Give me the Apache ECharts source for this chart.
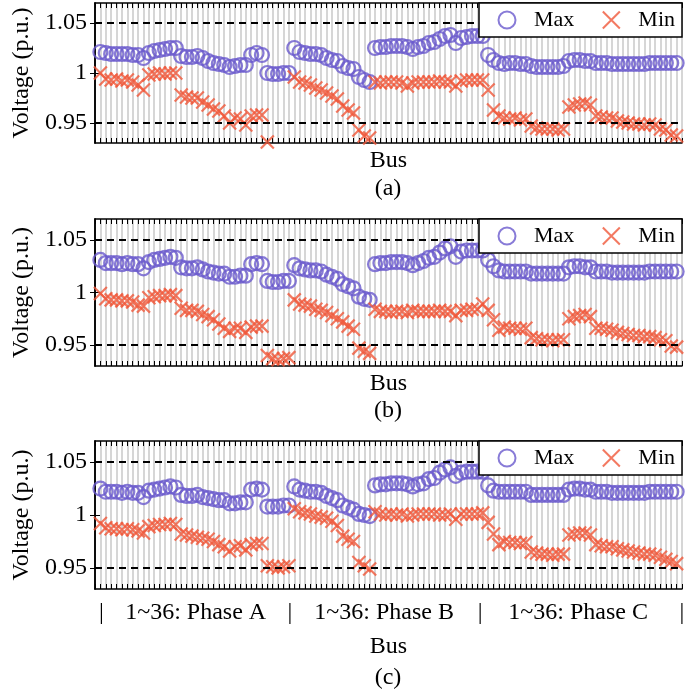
<!DOCTYPE html>
<html>
<head>
<meta charset="utf-8">
<script src="https://cdn.jsdelivr.net/npm/echarts@6/dist/echarts.min.js"></script>
<style>
  html, body { margin: 0; padding: 0; background: #fff; }
  #chart { width: 700px; height: 691px; }
</style>
</head>
<body>
<div id="chart"></div>
<script>
// bus numbers: 1-36 phase A, 37-72 phase B, 73-108 phase C
const buses = Array.from({ length: 108 }, (_, i) => i + 1);

// (a)
const maxA = [
  1.021, 1.020, 1.019, 1.019, 1.019, 1.019, 1.018, 1.018, 1.015, 1.020, 1.022, 1.023, 1.024, 1.025, 1.025,
  1.017, 1.016, 1.016, 1.017, 1.015, 1.012, 1.010, 1.009, 1.008, 1.006, 1.007, 1.008, 1.008,
  1.018, 1.020, 1.018, 1.000, 0.999, 0.999, 1.000, 1.000,
  1.025, 1.021, 1.020, 1.019, 1.019, 1.018, 1.015, 1.013, 1.012, 1.007, 1.005, 1.004, 0.996, 0.993, 0.991,
  1.025, 1.026, 1.026, 1.027, 1.027, 1.027, 1.026, 1.024, 1.026, 1.027, 1.030, 1.031, 1.034, 1.037, 1.038,
  1.030, 1.035, 1.036, 1.037, 1.037, 1.037,
  1.018, 1.013, 1.010, 1.009, 1.010, 1.010, 1.009, 1.009, 1.007, 1.006, 1.006, 1.006, 1.006, 1.006, 1.007,
  1.012, 1.013, 1.013, 1.012, 1.012, 1.010, 1.010, 1.010, 1.009, 1.009, 1.009, 1.009, 1.009, 1.009, 1.009,
  1.010, 1.010, 1.010, 1.010, 1.010, 1.010
];
const minA = [
  1.000, 0.994, 0.993, 0.994, 0.992, 0.993, 0.991, 0.988, 0.983, 0.998, 0.999, 1.000, 0.999, 1.000, 1.000,
  0.978, 0.976, 0.975, 0.975, 0.971, 0.968, 0.964, 0.962, 0.957, 0.950, 0.955, 0.954, 0.948,
  0.957, 0.958, 0.958, 0.931, 0.925, 0.925, 0.925, 0.925,
  0.996, 0.991, 0.990, 0.988, 0.985, 0.983, 0.980, 0.977, 0.974, 0.967, 0.963, 0.960, 0.943, 0.937, 0.935,
  0.991, 0.990, 0.991, 0.991, 0.991, 0.990, 0.987, 0.990, 0.991, 0.991, 0.991, 0.991, 0.992, 0.991, 0.991,
  0.987, 0.992, 0.993, 0.993, 0.993, 0.993,
  0.983, 0.963, 0.957, 0.955, 0.954, 0.955, 0.953, 0.954, 0.947, 0.945, 0.944, 0.944, 0.944, 0.943, 0.944,
  0.966, 0.968, 0.969, 0.970, 0.968, 0.957, 0.956, 0.955, 0.955, 0.952, 0.951, 0.950, 0.949, 0.949, 0.948,
  0.949, 0.948, 0.944, 0.943, 0.938, 0.937
];

// (b)
const maxB = [
  1.031, 1.028, 1.028, 1.028, 1.027, 1.028, 1.027, 1.027, 1.023, 1.029, 1.031, 1.032, 1.033, 1.034, 1.033,
  1.024, 1.023, 1.023, 1.024, 1.022, 1.020, 1.019, 1.018, 1.018, 1.015, 1.015, 1.016, 1.016,
  1.027, 1.028, 1.027, 1.011, 1.010, 1.010, 1.011, 1.011,
  1.026, 1.023, 1.022, 1.021, 1.021, 1.020, 1.017, 1.015, 1.013, 1.008, 1.006, 1.004, 0.996, 0.994, 0.993,
  1.027, 1.028, 1.028, 1.029, 1.029, 1.029, 1.028, 1.026, 1.028, 1.030, 1.033, 1.034, 1.038, 1.042, 1.044,
  1.034, 1.039, 1.040, 1.040, 1.040, 1.040,
  1.031, 1.025, 1.021, 1.020, 1.020, 1.020, 1.020, 1.020, 1.018, 1.018, 1.018, 1.018, 1.018, 1.018, 1.018,
  1.024, 1.025, 1.025, 1.024, 1.024, 1.020, 1.020, 1.020, 1.019, 1.019, 1.019, 1.019, 1.019, 1.019, 1.019,
  1.020, 1.020, 1.020, 1.020, 1.020, 1.020
];
const minB = [
  0.999, 0.994, 0.993, 0.993, 0.992, 0.992, 0.991, 0.988, 0.987, 0.995, 0.996, 0.997, 0.997, 0.998, 0.997,
  0.985, 0.983, 0.983, 0.982, 0.979, 0.977, 0.974, 0.970, 0.966, 0.963, 0.966, 0.966, 0.962,
  0.967, 0.968, 0.968, 0.940, 0.937, 0.936, 0.937, 0.938,
  0.993, 0.989, 0.988, 0.987, 0.984, 0.983, 0.981, 0.978, 0.975, 0.972, 0.968, 0.965, 0.947, 0.944, 0.942,
  0.984, 0.982, 0.982, 0.981, 0.982, 0.982, 0.981, 0.983, 0.982, 0.982, 0.982, 0.982, 0.983, 0.982, 0.982,
  0.978, 0.983, 0.983, 0.984, 0.984, 0.989,
  0.983, 0.974, 0.964, 0.967, 0.966, 0.966, 0.965, 0.966, 0.957, 0.956, 0.955, 0.955, 0.954, 0.955, 0.955,
  0.975, 0.977, 0.978, 0.979, 0.977, 0.966, 0.966, 0.965, 0.964, 0.962, 0.961, 0.960, 0.959, 0.959, 0.958,
  0.958, 0.957, 0.955, 0.954, 0.949, 0.948
];

// (c)
const maxC = [
  1.025, 1.022, 1.022, 1.022, 1.021, 1.022, 1.021, 1.021, 1.017, 1.023, 1.024, 1.025, 1.026, 1.027, 1.026,
  1.019, 1.018, 1.018, 1.019, 1.017, 1.016, 1.015, 1.014, 1.014, 1.011, 1.011, 1.012, 1.012,
  1.024, 1.025, 1.024, 1.008, 1.008, 1.008, 1.009, 1.009,
  1.027, 1.024, 1.023, 1.022, 1.022, 1.021, 1.018, 1.016, 1.014, 1.009, 1.007, 1.005, 1.001, 1.000, 0.999,
  1.028, 1.029, 1.029, 1.030, 1.030, 1.030, 1.029, 1.027, 1.029, 1.030, 1.034, 1.035, 1.040, 1.043, 1.045,
  1.037, 1.040, 1.041, 1.041, 1.041, 1.041,
  1.028, 1.023, 1.022, 1.022, 1.022, 1.022, 1.022, 1.022, 1.019, 1.019, 1.019, 1.019, 1.019, 1.019, 1.019,
  1.024, 1.025, 1.025, 1.024, 1.024, 1.022, 1.022, 1.022, 1.021, 1.021, 1.021, 1.021, 1.021, 1.021, 1.021,
  1.022, 1.022, 1.022, 1.022, 1.022, 1.022
];
const minC = [
  0.992, 0.988, 0.987, 0.987, 0.986, 0.987, 0.986, 0.985, 0.983, 0.989, 0.990, 0.991, 0.991, 0.992, 0.991,
  0.982, 0.981, 0.980, 0.979, 0.978, 0.977, 0.975, 0.972, 0.970, 0.966, 0.970, 0.971, 0.967,
  0.972, 0.973, 0.973, 0.952, 0.951, 0.950, 0.951, 0.952,
  1.006, 1.003, 1.002, 1.001, 0.999, 0.998, 0.997, 0.994, 0.990, 0.980, 0.977, 0.975, 0.955, 0.952, 0.949,
  1.003, 1.001, 1.000, 1.001, 1.000, 1.001, 0.999, 1.000, 1.001, 1.001, 1.001, 1.001, 1.000, 1.000, 1.001,
  0.996, 1.001, 1.001, 1.001, 1.001, 1.002,
  0.993, 0.982, 0.972, 0.975, 0.974, 0.974, 0.973, 0.974, 0.965, 0.964, 0.963, 0.963, 0.962, 0.963, 0.963,
  0.981, 0.982, 0.983, 0.983, 0.981, 0.972, 0.971, 0.970, 0.970, 0.968, 0.967, 0.966, 0.965, 0.964, 0.963,
  0.963, 0.962, 0.960, 0.958, 0.956, 0.954
];

const yTicks = [0.95, 1, 1.05];
const limitLines = [0.95, 1.05];
const phaseTickPos = [1.2, 18.7, 36.2, 53.7, 71.5, 89.7, 109];
const phaseTickText = ['|', '1~36: Phase A', '|', '1~36: Phase B', '|', '1~36: Phase C', '|'];
const panelNames = ['(a)', '(b)', '(c)'];

const FONT = 'Liberation Serif';
const MAX_COLOR = '#6A5ACD';
const MIN_COLOR = '#F0583A';
const X_SYMBOL = 'path://M0,0L10,10M10,0L0,10';

const panels = [
  { max: maxA, min: minA, top: 3, height: 140, busGap: 6, caption: 189 },
  { max: maxB, min: minB, top: 219, height: 147, busGap: 6, caption: 411 },
  { max: maxC, min: minC, top: 441, height: 148, busGap: 46, caption: 678 }
];

const grid = [], xAxis = [], yAxis = [], series = [], legend = [], graphic = [];

panels.forEach((p, g) => {
  grid.push({ left: 95, width: 587, top: p.top, height: p.height });

  // bottom x axis (with the grey bus grid lines)
  xAxis.push({
    gridIndex: g, type: 'value', min: 0, max: 109, interval: 1,
    axisLine: { lineStyle: { color: '#000', width: 1.5 } },
    axisTick: { inside: true, length: 5, lineStyle: { color: '#000' } },
    axisLabel: g === 2 ? {
      customValues: phaseTickPos,
      margin: 12,
      fontFamily: FONT, fontSize: 24, color: '#000',
      formatter: v => {
        const k = phaseTickPos.findIndex(t => Math.abs(t - v) < 1e-6);
        return k >= 0 ? phaseTickText[k] : '';
      }
    } : { show: false },
    splitLine: { show: true, lineStyle: { color: '#D6D6D6', width: 2 } },
    name: 'Bus', nameLocation: 'middle', nameGap: p.busGap,
    nameTextStyle: { fontFamily: FONT, fontSize: 24, color: '#000' }
  });
  // top x axis, only the frame and ticks
  xAxis.push({
    gridIndex: g, type: 'value', position: 'top', min: 0, max: 109, interval: 1,
    axisLine: { lineStyle: { color: '#000', width: 1.5 } },
    axisTick: { inside: true, length: 5, lineStyle: { color: '#000' } },
    axisLabel: { show: false }, splitLine: { show: false }
  });

  yAxis.push({
    gridIndex: g, type: 'value', min: 0.93, max: 1.07,
    axisLine: { show: true, lineStyle: { color: '#000', width: 1.5 } },
    axisTick: { show: true, inside: true, length: 5, customValues: yTicks, lineStyle: { color: '#000' } },
    axisLabel: {
      customValues: yTicks, margin: 8,
      fontFamily: FONT, fontSize: 24, color: '#000',
      formatter: v => String(Number(v.toFixed(2)))
    },
    splitLine: { show: false },
    name: 'Voltage (p.u.)', nameLocation: 'middle', nameGap: 57,
    nameTextStyle: { fontFamily: FONT, fontSize: 24, color: '#000' }
  });
  yAxis.push({
    gridIndex: g, type: 'value', position: 'right', min: 0.93, max: 1.07,
    axisLine: { show: true, lineStyle: { color: '#000', width: 1.5 } },
    axisTick: { show: true, inside: true, length: 5, customValues: yTicks, lineStyle: { color: '#000' } },
    axisLabel: { show: false }, splitLine: { show: false }
  });

  series.push({
    name: 'Max', type: 'scatter', xAxisIndex: 2 * g, yAxisIndex: 2 * g,
    symbol: 'circle', symbolSize: 14,
    itemStyle: { color: 'none', borderColor: MAX_COLOR, borderWidth: 2.2 },
    data: buses.map((b, i) => [b, p.max[i]]),
    markLine: {
      silent: true, symbol: ['none', 'none'], label: { show: false },
      lineStyle: { color: '#000', type: [7, 5], width: 2 },
      data: limitLines.map(v => ({ yAxis: v }))
    },
    z: 3
  });
  series.push({
    name: 'Min', type: 'scatter', xAxisIndex: 2 * g, yAxisIndex: 2 * g,
    symbol: X_SYMBOL, symbolSize: 13,
    itemStyle: { color: 'none', borderColor: MIN_COLOR, borderWidth: 2.2 },
    data: buses.map((b, i) => [b, p.min[i]]),
    z: 3
  });

  legend.push({
    data: ['Max', 'Min'], selectedMode: false, z: 20,
    right: 18, top: p.top,
    backgroundColor: '#fff', borderColor: '#000', borderWidth: 1.5,
    padding: [6, 7, 6, 17],
    itemWidth: 44, itemHeight: 17, itemGap: 26,
    textStyle: { fontFamily: FONT, fontSize: 22, color: '#000' }
  });

  // panel caption
  graphic.push({
    type: 'text', z: 20,
    style: { text: panelNames[g], x: 388, y: p.caption, align: 'center', verticalAlign: 'middle', font: '24px ' + FONT, fill: '#000' }
  });
});

const chart = echarts.init(document.getElementById('chart'));
chart.setOption({
  animation: false,
  backgroundColor: '#fff',
  grid, xAxis, yAxis, series, legend, graphic
});
</script>
</body>
</html>
